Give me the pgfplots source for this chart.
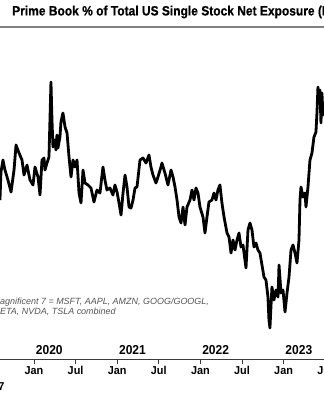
\documentclass[border=0pt]{standalone}
\usepackage{pgfplots}
\pgfplotsset{compat=1.18}
\usepackage{pgfplotstable}
\usepackage{fontspec}
\setmainfont{Liberation Sans}
\newfontfamily\titlefont[FakeStretch=0.892,FakeBold=0.6]{Liberation Sans}
\newfontfamily\yearfont[FakeStretch=0.93]{Liberation Sans}
\newfontfamily\tickfont[FakeStretch=0.95]{Liberation Sans}
\definecolor{axisgray}{HTML}{3A3A3A}
\definecolor{notegray}{HTML}{555555}

\pgfplotstableread{
x y
2019.591 159
2019.603 187
2019.627 199
2019.651 189
2019.687 179
2019.724 167
2019.760 189
2019.784 214
2019.820 206
2019.856 199
2019.880 184
2019.916 194
2019.952 179
2019.988 174
2020.012 192
2020.048 182
2020.072 164
2020.096 199
2020.120 201
2020.132 189
2020.156 196
2020.180 202
2020.204 277
2020.216 239
2020.228 212
2020.252 219
2020.264 209
2020.276 224
2020.288 211
2020.312 222
2020.324 237
2020.348 246
2020.373 232
2020.397 226
2020.421 202
2020.445 182
2020.469 199
2020.493 192
2020.517 199
2020.541 166
2020.565 156
2020.589 189
2020.613 176
2020.649 174
2020.685 171
2020.721 157
2020.757 169
2020.793 166
2020.829 192
2020.853 179
2020.877 169
2020.913 171
2020.949 164
2020.973 174
2020.998 167
2021.022 156
2021.046 144
2021.070 166
2021.094 184
2021.118 172
2021.142 152
2021.166 151
2021.190 159
2021.214 171
2021.238 172
2021.274 199
2021.310 201
2021.346 196
2021.382 204
2021.406 192
2021.430 184
2021.466 176
2021.490 182
2021.526 192
2021.538 196
2021.574 186
2021.610 174
2021.647 189
2021.671 182
2021.695 172
2021.719 159
2021.743 142
2021.767 136
2021.791 152
2021.815 134
2021.839 152
2021.875 159
2021.899 169
2021.923 159
2021.947 171
2021.971 166
2021.995 152
2022.031 142
2022.055 126
2022.079 142
2022.103 157
2022.139 159
2022.163 166
2022.187 159
2022.211 169
2022.235 174
2022.259 156
2022.284 142
2022.320 126
2022.344 122
2022.368 106
2022.392 119
2022.416 109
2022.440 119
2022.464 126
2022.488 112
2022.512 114
2022.548 91
2022.572 129
2022.596 136
2022.620 129
2022.644 112
2022.668 116
2022.692 109
2022.716 106
2022.740 94
2022.764 82
2022.788 79
2022.812 62
2022.824 39
2022.836 31
2022.848 52
2022.860 72
2022.884 59
2022.909 69
2022.933 62
2022.945 94
2022.969 66
2022.993 69
2023.017 47
2023.041 66
2023.065 82
2023.089 109
2023.113 114
2023.137 106
2023.161 96
2023.185 119
2023.197 159
2023.209 172
2023.233 162
2023.257 166
2023.269 152
2023.293 172
2023.317 199
2023.341 206
2023.365 222
2023.389 227
2023.401 246
2023.413 272
2023.425 256
2023.437 269
2023.449 236
2023.461 266
2023.473 244
2023.485 249
}\magdata

\begin{document}
\begin{tikzpicture}
\useasboundingbox (0,0) rectangle (324bp,400bp);
\clip (0,0) rectangle (324bp,400bp);
\fill[white] (0,0) rectangle (324bp,400bp);
\node[anchor=west, inner sep=0pt, font=\titlefont\bfseries\fontsize{13.5}{15}\selectfont] at (12bp,388bp) {Prime Book \% of Total US Single Stock Net Exposure (Magnificent 7)};
\draw[line width=1.1bp, color=gray] (0,373bp) -- (324bp,373bp);
\begin{axis}[
  at={(-15.92bp,41bp)}, anchor=south west,
  scale only axis, width=349.44bp, height=330bp,
  xmin=2019.4, xmax=2023.6, ymin=0, ymax=330,
  axis x line=bottom, axis y line=none,
  axis line style={-, line width=0.9bp, color=axisgray},
  xtick={2019.5,2020,2020.5,2021,2021.5,2022,2022.5,2023,2023.5},
  xticklabels={{Jul\\[3bp]2017},Jan,Jul,Jan,Jul,Jan,Jul,Jan,Jul},
  tick align=outside, major tick length=5bp,
  tick style={line width=0.8bp, color=axisgray},
  xticklabel style={font=\tickfont\bfseries\fontsize{11.5}{12.5}\selectfont, align=center, text=black, inner sep=2.5pt},
  clip=false,
]
\addplot[black, line width=2.8bp, line join=round] table[x=x, y=y] {\magdata};
\node[anchor=base west, inner sep=0pt, font=\yearfont\bfseries\fontsize{13}{14}\selectfont] at (axis cs:2020.02,4.5) {2020};
\node[anchor=base west, inner sep=0pt, font=\yearfont\bfseries\fontsize{13}{14}\selectfont] at (axis cs:2021.02,4.5) {2021};
\node[anchor=base west, inner sep=0pt, font=\yearfont\bfseries\fontsize{13}{14}\selectfont] at (axis cs:2022.02,4.5) {2022};
\node[anchor=base west, inner sep=0pt, font=\yearfont\bfseries\fontsize{13}{14}\selectfont] at (axis cs:2023.02,4.5) {2023};
\end{axis}
\node[anchor=base west, inner sep=0pt, text=notegray, font=\itshape\fontsize{9}{10}\selectfont] at (0,95bp) {agnificent 7 = MSFT, AAPL, AMZN, GOOG/GOOGL,};
\node[anchor=base west, inner sep=0pt, text=notegray, font=\itshape\fontsize{9}{10}\selectfont] at (0,85bp) {ETA, NVDA, TSLA combined};
\end{tikzpicture}
\end{document}
